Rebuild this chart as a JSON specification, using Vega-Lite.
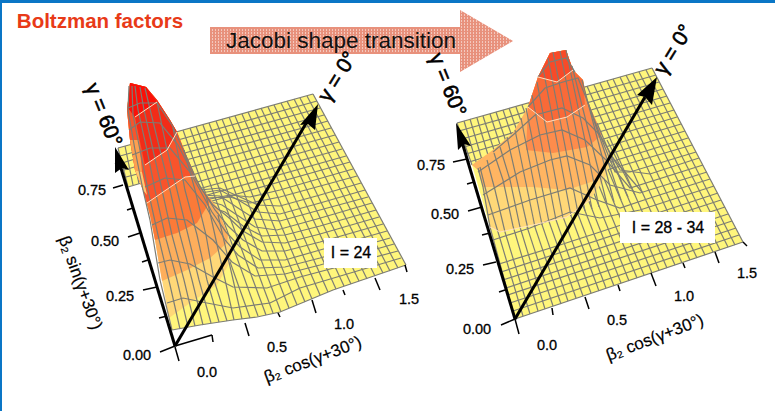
{"$schema":"https://vega.github.io/schema/vega-lite/v6.json","width":775,"height":411,"padding":0,"autosize":{"type":"none"},"background":"white","config":{"view":{"stroke":null},"text":{"font":"Liberation Sans"}},
"datasets":{
"polys":[
{"s":"fl","x":172,"y":330},{"s":"fl","x":200,"y":325},{"s":"fl","x":233,"y":320},{"s":"fl","x":257,"y":317},{"s":"fl","x":280,"y":312},{"s":"fl","x":333,"y":290},{"s":"fl","x":406,"y":265},{"s":"fl","x":313,"y":94},{"s":"fl","x":118,"y":148},{"s":"fl","x":128,"y":187},{"s":"fl","x":145,"y":182},
{"s":"fr","x":515,"y":319},{"s":"fr","x":743,"y":242},{"s":"fr","x":652,"y":68},{"s":"fr","x":457,"y":123},{"s":"fr","x":472,"y":165},{"s":"fr","x":490,"y":227}],
"back":[
{"s":"lc10","x":250,"y":318},{"s":"lc10","x":183,"y":130},{"s":"lc11","x":258,"y":316},{"s":"lc11","x":190,"y":128},{"s":"lc12","x":266,"y":315},{"s":"lc12","x":196,"y":126},{"s":"lc13","x":273,"y":313},{"s":"lc13","x":203,"y":125},{"s":"lc14","x":281,"y":312},{"s":"lc14","x":209,"y":123},{"s":"lc15","x":289,"y":308},{"s":"lc15","x":216,"y":121},{"s":"lc16","x":297,"y":305},{"s":"lc16","x":222,"y":119},{"s":"lc17","x":305,"y":302},{"s":"lc17","x":229,"y":117},{"s":"lc18","x":312,"y":299},{"s":"lc18","x":235,"y":116},{"s":"lc19","x":320,"y":295},{"s":"lc19","x":242,"y":114},{"s":"lc20","x":328,"y":292},{"s":"lc20","x":248,"y":112},{"s":"lc21","x":336,"y":289},{"s":"lc21","x":255,"y":110},{"s":"lc22","x":344,"y":286},{"s":"lc22","x":261,"y":108},{"s":"lc23","x":351,"y":284},{"s":"lc23","x":268,"y":107},{"s":"lc24","x":359,"y":281},{"s":"lc24","x":274,"y":105},{"s":"lc25","x":367,"y":279},{"s":"lc25","x":281,"y":103},{"s":"lc26","x":375,"y":276},{"s":"lc26","x":287,"y":101},{"s":"lc27","x":383,"y":273},{"s":"lc27","x":294,"y":99},{"s":"lc28","x":390,"y":271},{"s":"lc28","x":300,"y":98},{"s":"lc29","x":398,"y":268},{"s":"lc29","x":307,"y":96},{"s":"lc30","x":406,"y":265},{"s":"lc30","x":313,"y":94},
{"s":"lb0","x":118,"y":148},{"s":"lb0","x":128,"y":187},{"s":"lb1","x":125,"y":146},{"s":"lb1","x":133,"y":185},{"s":"lb2","x":131,"y":144},{"s":"lb2","x":139,"y":184},{"s":"lb3","x":138,"y":143},{"s":"lb3","x":145,"y":182},
{"s":"lp1","x":120,"y":156},{"s":"lp1","x":145,"y":149},{"s":"lp2","x":122,"y":163},{"s":"lp2","x":145,"y":156},{"s":"lp3","x":124,"y":170},{"s":"lp3","x":145,"y":164},{"s":"lp4","x":126,"y":177},{"s":"lp4","x":145,"y":172},{"s":"lp5","x":128,"y":187},{"s":"lp5","x":145,"y":182},
{"s":"lj8","x":376,"y":210},{"s":"lj8","x":320,"y":226},{"s":"lj8","x":285,"y":235},{"s":"lj8","x":262,"y":236},{"s":"lj8","x":243,"y":226},{"s":"lj8","x":225,"y":212},{"s":"lj8","x":205,"y":205},
{"s":"lj9","x":372,"y":203},{"s":"lj9","x":317,"y":219},{"s":"lj9","x":277,"y":230},{"s":"lj9","x":255,"y":227},{"s":"lj9","x":240,"y":217},{"s":"lj9","x":222,"y":205},{"s":"lj9","x":205,"y":200},
{"s":"lj10","x":368,"y":197},{"s":"lj10","x":320,"y":210},{"s":"lj10","x":280,"y":221},{"s":"lj10","x":255,"y":219},{"s":"lj10","x":238,"y":208},{"s":"lj10","x":220,"y":196},{"s":"lj10","x":200,"y":195},
{"s":"lj11","x":365,"y":190},{"s":"lj11","x":320,"y":203},{"s":"lj11","x":280,"y":214},{"s":"lj11","x":258,"y":212},{"s":"lj11","x":240,"y":201},{"s":"lj11","x":220,"y":190},{"s":"lj11","x":200,"y":193},
{"s":"lj12","x":361,"y":183},{"s":"lj12","x":320,"y":195},{"s":"lj12","x":280,"y":206},{"s":"lj12","x":258,"y":205},{"s":"lj12","x":240,"y":197},{"s":"lj12","x":220,"y":188},{"s":"lj12","x":200,"y":190},
{"s":"lj13","x":357,"y":176},{"s":"lj13","x":280,"y":197},{"s":"lj13","x":250,"y":203},{"s":"lj13","x":230,"y":197},{"s":"lj13","x":205,"y":198},
{"s":"lj14","x":353,"y":169},{"s":"lj14","x":280,"y":190},{"s":"lj14","x":250,"y":197},{"s":"lj14","x":230,"y":195},{"s":"lj14","x":205,"y":200},
{"s":"lj15","x":350,"y":162},{"s":"lj15","x":205,"y":203},{"s":"lj16","x":346,"y":156},{"s":"lj16","x":200,"y":197},{"s":"lj17","x":342,"y":149},{"s":"lj17","x":195,"y":190},{"s":"lj18","x":339,"y":142},{"s":"lj18","x":190,"y":184},{"s":"lj19","x":335,"y":135},{"s":"lj19","x":185,"y":177},{"s":"lj20","x":331,"y":128},{"s":"lj20","x":180,"y":170},{"s":"lj21","x":328,"y":121},{"s":"lj21","x":175,"y":163},{"s":"lj22","x":324,"y":115},{"s":"lj22","x":170,"y":157},{"s":"lj23","x":320,"y":108},{"s":"lj23","x":165,"y":151},{"s":"lj24","x":317,"y":101},{"s":"lj24","x":160,"y":145},{"s":"lj25","x":313,"y":94},{"s":"lj25","x":118,"y":148},
{"s":"rb0","x":457,"y":123},{"s":"rb0","x":472,"y":165},{"s":"rb1","x":464,"y":121},{"s":"rb1","x":477,"y":165},{"s":"rb2","x":470,"y":119},{"s":"rb2","x":482,"y":160},{"s":"rb3","x":477,"y":118},{"s":"rb3","x":488,"y":155},{"s":"rb4","x":483,"y":116},{"s":"rb4","x":494,"y":150},
{"s":"rc5b","x":553,"y":306},{"s":"rc5b","x":490,"y":114},{"s":"rc6b","x":561,"y":304},{"s":"rc6b","x":496,"y":112},{"s":"rc7b","x":568,"y":301},{"s":"rc7b","x":503,"y":110},{"s":"rc8b","x":576,"y":298},{"s":"rc8b","x":509,"y":108},{"s":"rc9b","x":583,"y":296},{"s":"rc9b","x":516,"y":107},{"s":"rc10b","x":591,"y":293},{"s":"rc10b","x":522,"y":105},{"s":"rc11b","x":599,"y":291},{"s":"rc11b","x":529,"y":103},{"s":"rc12b","x":606,"y":288},{"s":"rc12b","x":535,"y":101},{"s":"rc13b","x":614,"y":286},{"s":"rc13b","x":542,"y":99},{"s":"rc14b","x":621,"y":283},{"s":"rc14b","x":548,"y":97},{"s":"rc15b","x":629,"y":281},{"s":"rc15b","x":555,"y":96},{"s":"rc16b","x":637,"y":278},{"s":"rc16b","x":561,"y":94},{"s":"rc17b","x":644,"y":275},{"s":"rc17b","x":568,"y":92},{"s":"rc18b","x":652,"y":273},{"s":"rc18b","x":574,"y":90},{"s":"rc19b","x":659,"y":270},{"s":"rc19b","x":581,"y":88},{"s":"rc20b","x":667,"y":268},{"s":"rc20b","x":587,"y":86},{"s":"rc21b","x":675,"y":265},{"s":"rc21b","x":594,"y":85},{"s":"rc22b","x":682,"y":263},{"s":"rc22b","x":600,"y":83},{"s":"rc23b","x":690,"y":260},{"s":"rc23b","x":607,"y":81},{"s":"rc24b","x":697,"y":258},{"s":"rc24b","x":613,"y":79},{"s":"rc25b","x":705,"y":255},{"s":"rc25b","x":620,"y":77},{"s":"rc26b","x":713,"y":252},{"s":"rc26b","x":626,"y":75},{"s":"rc27b","x":720,"y":250},{"s":"rc27b","x":633,"y":74},{"s":"rc28b","x":728,"y":247},{"s":"rc28b","x":639,"y":72},{"s":"rc29b","x":735,"y":245},{"s":"rc29b","x":646,"y":70},{"s":"rc30b","x":743,"y":242},{"s":"rc30b","x":652,"y":68},
{"s":"rj0","x":515,"y":319},{"s":"rj0","x":743,"y":242},{"s":"rj1","x":513,"y":311},{"s":"rj1","x":739,"y":235},{"s":"rj2","x":510,"y":303},{"s":"rj2","x":736,"y":228},{"s":"rj3","x":508,"y":295},{"s":"rj3","x":732,"y":221},{"s":"rj4","x":506,"y":288},{"s":"rj4","x":728,"y":214},{"s":"rj5","x":503,"y":280},{"s":"rj5","x":725,"y":207},{"s":"rj6","x":501,"y":272},{"s":"rj6","x":721,"y":200},{"s":"rj7","x":499,"y":264},{"s":"rj7","x":560,"y":245},{"s":"rj7","x":600,"y":232},{"s":"rj7","x":718,"y":193},
{"s":"rj14","x":692,"y":145},{"s":"rj14","x":600,"y":172},{"s":"rj15","x":688,"y":138},{"s":"rj15","x":500,"y":196},{"s":"rj16","x":685,"y":131},{"s":"rj16","x":500,"y":187},{"s":"rj17","x":681,"y":124},{"s":"rj17","x":500,"y":179},{"s":"rj18","x":677,"y":117},{"s":"rj18","x":500,"y":170},{"s":"rj19","x":674,"y":110},{"s":"rj19","x":500,"y":161},{"s":"rj20","x":670,"y":103},{"s":"rj20","x":469,"y":162},{"s":"rj21","x":667,"y":96},{"s":"rj21","x":466,"y":154},{"s":"rj22","x":663,"y":89},{"s":"rj22","x":464,"y":147},{"s":"rj23","x":659,"y":82},{"s":"rj23","x":462,"y":139},{"s":"rj24","x":656,"y":75},{"s":"rj24","x":459,"y":131},{"s":"rj25","x":652,"y":68},{"s":"rj25","x":457,"y":123}],
"bands":[
{"s":"L1","x":169,"y":318},{"s":"L1","x":190,"y":303},{"s":"L1","x":217,"y":285},{"s":"L1","x":230,"y":262},{"s":"L1","x":232,"y":250},{"s":"L1","x":228,"y":235},{"s":"L1","x":217,"y":207},{"s":"L1","x":200,"y":187},{"s":"L1","x":187,"y":157},{"s":"L1","x":177,"y":132},{"s":"L1","x":170,"y":120},{"s":"L1","x":157,"y":100},{"s":"L1","x":146,"y":87},{"s":"L1","x":130,"y":83},{"s":"L1","x":127,"y":110},{"s":"L1","x":130,"y":140},{"s":"L1","x":135,"y":170},{"s":"L1","x":143,"y":190},{"s":"L1","x":150,"y":215},{"s":"L1","x":155,"y":240},{"s":"L1","x":162,"y":280},
{"s":"L2","x":162,"y":281},{"s":"L2","x":187,"y":270},{"s":"L2","x":210,"y":258},{"s":"L2","x":227,"y":243},{"s":"L2","x":228,"y":235},{"s":"L2","x":217,"y":207},{"s":"L2","x":200,"y":187},{"s":"L2","x":187,"y":157},{"s":"L2","x":177,"y":132},{"s":"L2","x":170,"y":120},{"s":"L2","x":157,"y":100},{"s":"L2","x":146,"y":87},{"s":"L2","x":130,"y":83},{"s":"L2","x":127,"y":110},{"s":"L2","x":130,"y":140},{"s":"L2","x":135,"y":170},{"s":"L2","x":143,"y":190},{"s":"L2","x":150,"y":215},{"s":"L2","x":155,"y":240},
{"s":"L3","x":155,"y":240},{"s":"L3","x":177,"y":233},{"s":"L3","x":197,"y":223},{"s":"L3","x":211,"y":200},{"s":"L3","x":200,"y":187},{"s":"L3","x":187,"y":157},{"s":"L3","x":177,"y":132},{"s":"L3","x":170,"y":120},{"s":"L3","x":157,"y":100},{"s":"L3","x":146,"y":87},{"s":"L3","x":130,"y":83},{"s":"L3","x":127,"y":110},{"s":"L3","x":130,"y":140},{"s":"L3","x":135,"y":170},{"s":"L3","x":143,"y":190},{"s":"L3","x":150,"y":215},
{"s":"L4","x":147,"y":203},{"s":"L4","x":185,"y":177},{"s":"L4","x":195,"y":176},{"s":"L4","x":187,"y":157},{"s":"L4","x":177,"y":132},{"s":"L4","x":170,"y":120},{"s":"L4","x":157,"y":100},{"s":"L4","x":146,"y":87},{"s":"L4","x":130,"y":83},{"s":"L4","x":127,"y":110},{"s":"L4","x":130,"y":140},{"s":"L4","x":135,"y":170},{"s":"L4","x":143,"y":190},
{"s":"L5","x":145,"y":165},{"s":"L5","x":167,"y":150},{"s":"L5","x":177,"y":132},{"s":"L5","x":170,"y":120},{"s":"L5","x":157,"y":100},{"s":"L5","x":146,"y":87},{"s":"L5","x":130,"y":83},{"s":"L5","x":128,"y":108},{"s":"L5","x":135,"y":118},
{"s":"L6","x":128,"y":108},{"s":"L6","x":135,"y":117},{"s":"L6","x":157,"y":102},{"s":"L6","x":146,"y":87},{"s":"L6","x":130,"y":83},
{"s":"La","x":128,"y":108},{"s":"La","x":135,"y":118},{"s":"La","x":139,"y":140},{"s":"La","x":130,"y":140},
{"s":"Lb","x":130,"y":140},{"s":"Lb","x":139,"y":140},{"s":"Lb","x":142,"y":172},{"s":"Lb","x":135,"y":170},
{"s":"Lc","x":135,"y":170},{"s":"Lc","x":142,"y":172},{"s":"Lc","x":147,"y":195},{"s":"Lc","x":143,"y":190},
{"s":"R1","x":490,"y":227},{"s":"R1","x":500,"y":232},{"s":"R1","x":533,"y":225},{"s":"R1","x":567,"y":217},{"s":"R1","x":590,"y":200},{"s":"R1","x":605,"y":178},{"s":"R1","x":612,"y":157},{"s":"R1","x":597,"y":123},{"s":"R1","x":587,"y":100},{"s":"R1","x":583,"y":80},{"s":"R1","x":573,"y":70},{"s":"R1","x":566,"y":50},{"s":"R1","x":550,"y":53},{"s":"R1","x":538,"y":77},{"s":"R1","x":528,"y":107},{"s":"R1","x":513,"y":133},{"s":"R1","x":493,"y":150},{"s":"R1","x":472,"y":165},{"s":"R1","x":478,"y":170},{"s":"R1","x":483,"y":187},
{"s":"R2","x":483,"y":187},{"s":"R2","x":533,"y":187},{"s":"R2","x":567,"y":190},{"s":"R2","x":597,"y":180},{"s":"R2","x":607,"y":157},{"s":"R2","x":597,"y":123},{"s":"R2","x":587,"y":100},{"s":"R2","x":583,"y":80},{"s":"R2","x":573,"y":70},{"s":"R2","x":566,"y":50},{"s":"R2","x":550,"y":53},{"s":"R2","x":538,"y":77},{"s":"R2","x":528,"y":107},{"s":"R2","x":513,"y":133},{"s":"R2","x":493,"y":150},{"s":"R2","x":472,"y":165},{"s":"R2","x":478,"y":170},
{"s":"R3","x":526,"y":150},{"s":"R3","x":553,"y":153},{"s":"R3","x":587,"y":147},{"s":"R3","x":602,"y":135},{"s":"R3","x":597,"y":123},{"s":"R3","x":587,"y":100},{"s":"R3","x":583,"y":80},{"s":"R3","x":573,"y":70},{"s":"R3","x":566,"y":50},{"s":"R3","x":550,"y":53},{"s":"R3","x":538,"y":77},{"s":"R3","x":528,"y":107},
{"s":"R4","x":528,"y":107},{"s":"R4","x":547,"y":122},{"s":"R4","x":567,"y":117},{"s":"R4","x":585,"y":105},{"s":"R4","x":583,"y":80},{"s":"R4","x":573,"y":70},{"s":"R4","x":566,"y":50},{"s":"R4","x":550,"y":53},{"s":"R4","x":538,"y":77},
{"s":"R5","x":538,"y":77},{"s":"R5","x":557,"y":82},{"s":"R5","x":573,"y":70},{"s":"R5","x":566,"y":50},{"s":"R5","x":550,"y":53}],
"front":[
{"s":"c0","x":172,"y":330},{"s":"c0","x":160,"y":280},{"s":"c0","x":150,"y":220},{"s":"c0","x":143,"y":190},{"s":"c0","x":135,"y":150},{"s":"c0","x":128,"y":110},{"s":"c0","x":129,"y":86},
{"s":"c1","x":180,"y":329},{"s":"c1","x":170,"y":285},{"s":"c1","x":158,"y":235},{"s":"c1","x":148,"y":190},{"s":"c1","x":140,"y":150},{"s":"c1","x":133,"y":115},{"s":"c1","x":132,"y":86},
{"s":"c2","x":188,"y":327},{"s":"c2","x":177,"y":280},{"s":"c2","x":165,"y":235},{"s":"c2","x":155,"y":190},{"s":"c2","x":147,"y":150},{"s":"c2","x":138,"y":110},{"s":"c2","x":135,"y":86},
{"s":"c3","x":195,"y":326},{"s":"c3","x":184,"y":280},{"s":"c3","x":172,"y":235},{"s":"c3","x":162,"y":190},{"s":"c3","x":153,"y":150},{"s":"c3","x":144,"y":110},{"s":"c3","x":140,"y":87},
{"s":"c4","x":203,"y":325},{"s":"c4","x":192,"y":280},{"s":"c4","x":180,"y":235},{"s":"c4","x":170,"y":190},{"s":"c4","x":160,"y":150},{"s":"c4","x":149,"y":105},{"s":"c4","x":145,"y":88},
{"s":"c5","x":211,"y":323},{"s":"c5","x":199,"y":280},{"s":"c5","x":188,"y":235},{"s":"c5","x":177,"y":190},{"s":"c5","x":166,"y":145},{"s":"c5","x":157,"y":102},
{"s":"c6","x":219,"y":322},{"s":"c6","x":207,"y":280},{"s":"c6","x":197,"y":235},{"s":"c6","x":185,"y":190},{"s":"c6","x":173,"y":128},
{"s":"c7","x":227,"y":321},{"s":"c7","x":214,"y":280},{"s":"c7","x":206,"y":235},{"s":"c7","x":195,"y":190},{"s":"c7","x":184,"y":150},
{"s":"c8","x":234,"y":320},{"s":"c8","x":224,"y":275},{"s":"c8","x":216,"y":240},{"s":"c8","x":206,"y":195},
{"s":"c9","x":242,"y":319},{"s":"c9","x":232,"y":275},{"s":"c9","x":225,"y":245},{"s":"c9","x":218,"y":215},
{"s":"j0","x":172,"y":330},{"s":"j0","x":200,"y":325},{"s":"j0","x":233,"y":320},{"s":"j0","x":257,"y":317},{"s":"j0","x":280,"y":312},{"s":"j0","x":333,"y":290},{"s":"j0","x":406,"y":265},
{"s":"j1","x":401,"y":258},{"s":"j1","x":300,"y":288},{"s":"j1","x":270,"y":303},{"s":"j1","x":233,"y":308},{"s":"j1","x":207,"y":303},{"s":"j1","x":183,"y":298},{"s":"j1","x":167,"y":303},
{"s":"j2","x":398,"y":251},{"s":"j2","x":300,"y":277},{"s":"j2","x":267,"y":288},{"s":"j2","x":233,"y":287},{"s":"j2","x":213,"y":277},{"s":"j2","x":190,"y":264},{"s":"j2","x":170,"y":260},{"s":"j2","x":158,"y":263},
{"s":"j3","x":394,"y":244},{"s":"j3","x":320,"y":265},{"s":"j3","x":285,"y":274},{"s":"j3","x":255,"y":276},{"s":"j3","x":232,"y":262},{"s":"j3","x":213,"y":240},{"s":"j3","x":187,"y":220},{"s":"j3","x":167,"y":218},{"s":"j3","x":152,"y":225},
{"s":"j4","x":390,"y":238},{"s":"j4","x":320,"y":258},{"s":"j4","x":285,"y":267},{"s":"j4","x":258,"y":268},{"s":"j4","x":238,"y":255},{"s":"j4","x":225,"y":240},{"s":"j4","x":205,"y":205},{"s":"j4","x":185,"y":180},{"s":"j4","x":165,"y":178},{"s":"j4","x":145,"y":187},
{"s":"j5","x":387,"y":231},{"s":"j5","x":320,"y":250},{"s":"j5","x":285,"y":260},{"s":"j5","x":260,"y":260},{"s":"j5","x":240,"y":247},{"s":"j5","x":226,"y":232},{"s":"j5","x":212,"y":212},{"s":"j5","x":190,"y":172},{"s":"j5","x":170,"y":148},{"s":"j5","x":150,"y":148},{"s":"j5","x":132,"y":155},
{"s":"j6","x":383,"y":224},{"s":"j6","x":320,"y":242},{"s":"j6","x":285,"y":251},{"s":"j6","x":262,"y":251},{"s":"j6","x":243,"y":240},{"s":"j6","x":228,"y":226},{"s":"j6","x":215,"y":210},{"s":"j6","x":195,"y":178},{"s":"j6","x":178,"y":145},{"s":"j6","x":160,"y":123},{"s":"j6","x":140,"y":122},{"s":"j6","x":129,"y":130},
{"s":"j7","x":379,"y":217},{"s":"j7","x":320,"y":234},{"s":"j7","x":285,"y":243},{"s":"j7","x":262,"y":242},{"s":"j7","x":243,"y":231},{"s":"j7","x":228,"y":217},{"s":"j7","x":213,"y":205},{"s":"j7","x":200,"y":187},{"s":"j7","x":172,"y":125},{"s":"j7","x":157,"y":103},{"s":"j7","x":140,"y":103},{"s":"j7","x":128,"y":108},
{"s":"rc0","x":515,"y":319},{"s":"rc0","x":490,"y":227},{"s":"rc0","x":483,"y":187},{"s":"rc0","x":478,"y":168},
{"s":"rc1","x":523,"y":316},{"s":"rc1","x":498,"y":232},{"s":"rc1","x":487,"y":195},{"s":"rc1","x":480,"y":167},
{"s":"rc2","x":530,"y":314},{"s":"rc2","x":505,"y":232},{"s":"rc2","x":495,"y":190},{"s":"rc2","x":487,"y":160},
{"s":"rc3","x":538,"y":311},{"s":"rc3","x":513,"y":226},{"s":"rc3","x":503,"y":180},{"s":"rc3","x":494,"y":153},
{"s":"rc4","x":545,"y":309},{"s":"rc4","x":520,"y":227},{"s":"rc4","x":510,"y":180},{"s":"rc4","x":500,"y":147},
{"s":"rc5","x":528,"y":229},{"s":"rc5","x":507,"y":137},{"s":"rc6","x":535,"y":227},{"s":"rc6","x":515,"y":130},{"s":"rc7","x":542,"y":225},{"s":"rc7","x":521,"y":118},{"s":"rc8","x":549,"y":222},{"s":"rc8","x":526,"y":108},{"s":"rc9","x":556,"y":220},{"s":"rc9","x":532,"y":95},{"s":"rc10","x":563,"y":218},{"s":"rc10","x":537,"y":82},{"s":"rc11","x":571,"y":216},{"s":"rc11","x":543,"y":68},{"s":"rc12","x":578,"y":213},{"s":"rc12","x":548,"y":58},{"s":"rc13","x":585,"y":211},{"s":"rc13","x":553,"y":52},{"s":"rc14","x":592,"y":209},{"s":"rc14","x":560,"y":51},{"s":"rc15","x":599,"y":207},{"s":"rc15","x":566,"y":50},{"s":"rc16","x":607,"y":204},{"s":"rc16","x":572,"y":66},{"s":"rc17","x":614,"y":202},{"s":"rc17","x":582,"y":80},{"s":"rc18","x":621,"y":200},{"s":"rc18","x":587,"y":100},{"s":"rc19","x":628,"y":197},{"s":"rc19","x":597,"y":123},{"s":"rc20","x":635,"y":195},{"s":"rc20","x":607,"y":140},{"s":"rc21","x":642,"y":192},{"s":"rc21","x":612,"y":157},
{"s":"rj8","x":493,"y":240},{"s":"rj8","x":530,"y":228},{"s":"rj8","x":570,"y":212},{"s":"rj8","x":600,"y":218},{"s":"rj8","x":640,"y":210},{"s":"rj8","x":714,"y":186},
{"s":"rj9","x":488,"y":215},{"s":"rj9","x":530,"y":200},{"s":"rj9","x":570,"y":188},{"s":"rj9","x":597,"y":200},{"s":"rj9","x":620,"y":208},{"s":"rj9","x":650,"y":198},{"s":"rj9","x":710,"y":179},
{"s":"rj10","x":483,"y":195},{"s":"rj10","x":520,"y":172},{"s":"rj10","x":550,"y":160},{"s":"rj10","x":567,"y":156},{"s":"rj10","x":590,"y":165},{"s":"rj10","x":610,"y":185},{"s":"rj10","x":640,"y":193},{"s":"rj10","x":707,"y":172},
{"s":"rj11","x":478,"y":172},{"s":"rj11","x":510,"y":150},{"s":"rj11","x":540,"y":135},{"s":"rj11","x":562,"y":130},{"s":"rj11","x":585,"y":140},{"s":"rj11","x":606,"y":160},{"s":"rj11","x":630,"y":188},{"s":"rj11","x":703,"y":165},
{"s":"rj12","x":493,"y":152},{"s":"rj12","x":513,"y":135},{"s":"rj12","x":535,"y":115},{"s":"rj12","x":562,"y":108},{"s":"rj12","x":583,"y":118},{"s":"rj12","x":600,"y":135},{"s":"rj12","x":620,"y":170},{"s":"rj12","x":650,"y":174},{"s":"rj12","x":699,"y":158},
{"s":"rj13","x":528,"y":107},{"s":"rj13","x":545,"y":88},{"s":"rj13","x":563,"y":82},{"s":"rj13","x":578,"y":78},{"s":"rj13","x":587,"y":100},{"s":"rj13","x":600,"y":135},{"s":"rj13","x":615,"y":172},{"s":"rj13","x":630,"y":172},{"s":"rj13","x":696,"y":152},
{"s":"rj14f","x":538,"y":77},{"s":"rj14f","x":550,"y":62},{"s":"rj14f","x":566,"y":58},{"s":"rj14f","x":575,"y":72}],
"pale":[
{"s":"p1","x":135,"y":117},{"s":"p1","x":157,"y":102},{"s":"p2","x":145,"y":165},{"s":"p2","x":167,"y":150},{"s":"p2","x":177,"y":132},{"s":"p3","x":147,"y":203},{"s":"p3","x":185,"y":177},{"s":"p3","x":195,"y":176},
{"s":"p4","x":538,"y":77},{"s":"p4","x":557,"y":82},{"s":"p4","x":573,"y":70},{"s":"p5","x":528,"y":107},{"s":"p5","x":547,"y":122},{"s":"p5","x":567,"y":117},{"s":"p5","x":585,"y":105},{"s":"p6","x":490,"y":227},{"s":"p6","x":500,"y":232},{"s":"p6","x":533,"y":225},{"s":"p6","x":567,"y":217},{"s":"p6","x":590,"y":200}],
"ticks":[
{"s":"a","x":113,"y":188},{"s":"a","x":123,"y":185},{"s":"b","x":115,"y":164},{"s":"b","x":120,"y":162},{"s":"c","x":127,"y":210},{"s":"c","x":133,"y":208},{"s":"d","x":128,"y":237},{"s":"d","x":140,"y":233},{"s":"e","x":142,"y":262},{"s":"e","x":148,"y":260},{"s":"f","x":143,"y":290},{"s":"f","x":157,"y":287},{"s":"g","x":159,"y":318},{"s":"g","x":167,"y":316},{"s":"h","x":160,"y":352},{"s":"h","x":175,"y":346},
{"s":"i","x":175,"y":347},{"s":"i","x":179,"y":361},{"s":"k","x":212,"y":335},{"s":"k","x":213,"y":342},{"s":"l","x":245,"y":323},{"s":"l","x":249,"y":336},{"s":"m","x":278,"y":313},{"s":"m","x":280,"y":317},{"s":"n","x":312,"y":300},{"s":"n","x":316,"y":313},{"s":"o","x":343,"y":290},{"s":"o","x":345,"y":295},{"s":"q","x":375,"y":278},{"s":"q","x":380,"y":290},{"s":"r","x":405,"y":265},{"s":"r","x":407,"y":272},{"s":"s0","x":175,"y":346},{"s":"s0","x":212,"y":335},
{"s":"aa","x":501,"y":325},{"s":"aa","x":515,"y":319},{"s":"ab","x":499,"y":292},{"s":"ab","x":505,"y":290},{"s":"ac","x":483,"y":265},{"s":"ac","x":496,"y":262},{"s":"ad","x":482,"y":235},{"s":"ad","x":490,"y":233},{"s":"ae","x":468,"y":211},{"s":"ae","x":482,"y":207},{"s":"af","x":467,"y":184},{"s":"af","x":474,"y":182},{"s":"ag","x":453,"y":162},{"s":"ag","x":467,"y":159},
{"s":"ba","x":515,"y":319},{"s":"ba","x":519,"y":334},{"s":"bb","x":552,"y":308},{"s":"bb","x":553,"y":315},{"s":"bc","x":585,"y":297},{"s":"bc","x":589,"y":309},{"s":"bd","x":618,"y":285},{"s":"bd","x":620,"y":291},{"s":"be","x":651,"y":273},{"s":"be","x":656,"y":286},{"s":"bf","x":683,"y":263},{"s":"bf","x":685,"y":268},{"s":"bg","x":715,"y":252},{"s":"bg","x":719,"y":263},{"s":"bh","x":743,"y":242},{"s":"bh","x":747,"y":246}],
"shafts":[
{"s":"a1","x":175,"y":346},{"s":"a1","x":120,"y":165},{"s":"a2","x":175,"y":346},{"s":"a2","x":308,"y":120},{"s":"a3","x":515,"y":319},{"s":"a3","x":462,"y":142},{"s":"a4","x":515,"y":319},{"s":"a4","x":645,"y":97}],
"heads":[
{"s":"h1","x":115,"y":147},{"s":"h1","x":115,"y":173},{"s":"h1","x":122,"y":168},{"s":"h1","x":129,"y":170},
{"s":"h2","x":318,"y":104},{"s":"h2","x":300,"y":125},{"s":"h2","x":308,"y":124},{"s":"h2","x":315,"y":130},
{"s":"h3","x":456,"y":123},{"s":"h3","x":458,"y":150},{"s":"h3","x":464,"y":144},{"s":"h3","x":471,"y":146},
{"s":"h4","x":657,"y":77},{"s":"h4","x":637,"y":95},{"s":"h4","x":645,"y":97},{"s":"h4","x":652,"y":105}],
"bigarrow":[{"s":"A","x":210,"y":27},{"s":"A","x":460,"y":27},{"s":"A","x":460,"y":10},{"s":"A","x":513,"y":41},{"s":"A","x":460,"y":72},{"s":"A","x":460,"y":54},{"s":"A","x":210,"y":54}],
"dots":[
{"s":"12","x":461,"y":12},{"s":"12","x":463,"y":12},{"s":"15","x":461,"y":15},{"s":"15","x":468,"y":15},{"s":"18","x":461,"y":18},{"s":"18","x":474,"y":18},{"s":"21","x":461,"y":21},{"s":"21","x":479,"y":21},{"s":"24","x":461,"y":24},{"s":"24","x":484,"y":24},{"s":"27","x":461,"y":27},{"s":"27","x":489,"y":27},{"s":"30","x":212,"y":30},{"s":"30","x":494,"y":30},{"s":"33","x":212,"y":33},{"s":"33","x":499,"y":33},{"s":"36","x":212,"y":36},{"s":"36","x":504,"y":36},{"s":"39","x":212,"y":39},{"s":"39","x":510,"y":39},{"s":"42","x":212,"y":42},{"s":"42","x":511,"y":42},{"s":"45","x":212,"y":45},{"s":"45","x":506,"y":45},{"s":"48","x":212,"y":48},{"s":"48","x":501,"y":48},{"s":"51","x":212,"y":51},{"s":"51","x":496,"y":51},{"s":"54","x":461,"y":54},{"s":"54","x":491,"y":54},{"s":"57","x":461,"y":57},{"s":"57","x":486,"y":57},{"s":"60","x":461,"y":60},{"s":"60","x":480,"y":60},{"s":"63","x":461,"y":63},{"s":"63","x":475,"y":63},{"s":"66","x":461,"y":66},{"s":"66","x":470,"y":66},{"s":"69","x":461,"y":69},{"s":"69","x":465,"y":69}]
},
"encoding":{"x":{"field":"x","type":"quantitative","scale":{"domain":[0,775],"nice":false,"zero":false},"axis":null},"y":{"field":"y","type":"quantitative","scale":{"domain":[411,0],"nice":false,"zero":false},"axis":null}},
"layer":[
{"data":{"values":[{"x":0,"x2":775,"y":0,"y2":3},{"x":0,"x2":2,"y":0,"y2":411}]},"mark":{"type":"rect","fill":"#0a76c6"},"encoding":{"x2":{"field":"x2"},"y2":{"field":"y2"}}},
{"data":{"name":"polys"},"mark":{"type":"line","strokeWidth":0,"fill":"#fff67c"},"encoding":{"detail":{"field":"s"},"order":{"value":null}}},
{"data":{"name":"back"},"mark":{"type":"line","stroke":"#7d7d74","strokeWidth":1.2},"encoding":{"detail":{"field":"s"},"order":{"value":null}}},
{"data":{"name":"bands"},"mark":{"type":"line","strokeWidth":0},"encoding":{"fill":{"field":"s","type":"nominal","legend":null,"scale":{"domain":["L1","L2","L3","L4","L5","L6","La","Lb","Lc","R1","R2","R3","R4","R5"],"range":["#ffd878","#fdae5c","#fb7a38","#f8542c","#f22c18","#fb1008","#f8542c","#fca050","#ffc870","#ffd878","#ffb562","#fd8c4c","#f96a38","#f84a28"]}},"order":{"value":null}}},
{"data":{"name":"front"},"mark":{"type":"line","stroke":"#7d7d74","strokeWidth":1.2},"encoding":{"detail":{"field":"s"},"order":{"value":null}}},
{"data":{"name":"pale"},"mark":{"type":"line","stroke":"#ffe0c0","strokeWidth":1},"encoding":{"detail":{"field":"s"},"order":{"value":null}}},
{"data":{"values":[{"x":324,"x2":377,"y":238,"y2":268},{"x":620,"x2":715,"y":212,"y2":243}]},"mark":{"type":"rect","fill":"white"},"encoding":{"x2":{"field":"x2"},"y2":{"field":"y2"}}},
{"data":{"name":"ticks"},"mark":{"type":"line","stroke":"black","strokeWidth":1.5},"encoding":{"detail":{"field":"s"},"order":{"value":null}}},
{"data":{"name":"shafts"},"mark":{"type":"line","stroke":"black","strokeWidth":3},"encoding":{"detail":{"field":"s"},"order":{"value":null}}},
{"data":{"name":"heads"},"mark":{"type":"line","strokeWidth":0,"fill":"black"},"encoding":{"detail":{"field":"s"},"order":{"value":null}}},
{"data":{"name":"bigarrow"},"mark":{"type":"line","strokeWidth":0,"fill":"#e8917c"},"encoding":{"detail":{"field":"s"},"order":{"value":null}}},
{"data":{"name":"dots"},"mark":{"type":"line","stroke":"white","strokeWidth":1,"strokeDash":[1,2]},"encoding":{"detail":{"field":"s"},"order":{"value":null}}},
{"data":{"values":[{"x":92,"y":191,"t":"0.75"},{"x":105,"y":242,"t":"0.50"},{"x":120,"y":297,"t":"0.25"},{"x":137,"y":356,"t":"0.00"},{"x":207,"y":373,"t":"0.0"},{"x":277,"y":348,"t":"0.5"},{"x":344,"y":325,"t":"1.0"},{"x":409,"y":300,"t":"1.5"},{"x":431,"y":166,"t":"0.75"},{"x":445,"y":215,"t":"0.50"},{"x":460,"y":270,"t":"0.25"},{"x":477,"y":330,"t":"0.00"},{"x":547,"y":346,"t":"0.0"},{"x":617,"y":321,"t":"0.5"},{"x":684,"y":297,"t":"1.0"},{"x":747,"y":274,"t":"1.5"}]},"mark":{"type":"text","fontSize":14.5,"stroke":"black","strokeWidth":0.3,"align":"center","baseline":"middle"},"encoding":{"text":{"field":"t"}}},
{"data":{"values":[{"x":351,"y":253,"t":"I = 24"},{"x":668,"y":228,"t":"I = 28 - 34"}]},"mark":{"type":"text","fontSize":16,"stroke":"black","strokeWidth":0.3,"align":"center","baseline":"middle"},"encoding":{"text":{"field":"t"}}},
{"data":{"values":[{"x":80,"y":283,"t":"β₂ sin(γ+30°)"}]},"mark":{"type":"text","fontSize":17,"stroke":"black","strokeWidth":0.2,"angle":70,"align":"center","baseline":"middle"},"encoding":{"text":{"field":"t"}}},
{"data":{"values":[{"x":313,"y":360,"t":"β₂ cos(γ+30°)"},{"x":655,"y":338,"t":"β₂ cos(γ+30°)"}]},"mark":{"type":"text","fontSize":17,"stroke":"black","strokeWidth":0.2,"angle":-21,"align":"center","baseline":"middle"},"encoding":{"text":{"field":"t"}}},
{"data":{"values":[{"x":103,"y":115,"t":"γ = 60°"},{"x":447,"y":85,"t":"γ = 60°"}]},"mark":{"type":"text","fontSize":21,"stroke":"black","strokeWidth":0.6,"angle":68,"align":"center","baseline":"middle"},"encoding":{"text":{"field":"t"}}},
{"data":{"values":[{"x":338,"y":77,"t":"γ = 0°"},{"x":674,"y":50,"t":"γ = 0°"}]},"mark":{"type":"text","fontSize":21,"stroke":"black","strokeWidth":0.6,"angle":-58,"align":"center","baseline":"middle"},"encoding":{"text":{"field":"t"}}},
{"data":{"values":[{"x":100,"y":22,"t":"Boltzman factors"}]},"mark":{"type":"text","fontSize":20.5,"fontWeight":"bold","fill":"#e83a18","align":"center","baseline":"middle"},"encoding":{"text":{"field":"t"}}},
{"data":{"values":[{"x":341,"y":41,"t":"Jacobi shape transition"}]},"mark":{"type":"text","fontSize":22.5,"fill":"#111111","align":"center","baseline":"middle"},"encoding":{"text":{"field":"t"}}}
]}
